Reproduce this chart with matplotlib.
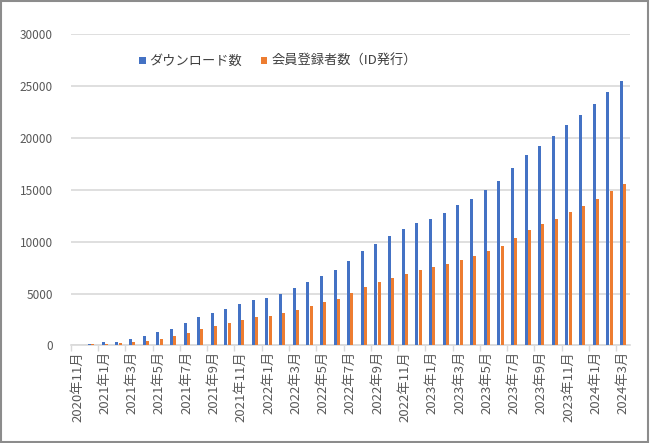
import numpy as np
import matplotlib
matplotlib.use('Agg')
import matplotlib.pyplot as plt
from matplotlib.patches import Rectangle

plt.rcParams['font.family'] = ['Noto Sans CJK JP', 'DejaVu Sans']

# months from 2020年11月 to 2024年3月
months = []
for y in range(2020, 2025):
    for m in range(1, 13):
        if (y == 2020 and m < 11) or (y == 2024 and m > 3):
            continue
        months.append(f'{y}年{m}月')

downloads = [0, 190, 290, 380, 600, 890, 1340, 1620, 2200, 2740,
             3150, 3500, 3950, 4360, 4590, 5000, 5540, 6120, 6720, 7290,
             8100, 9070, 9810, 10510, 11190, 11760, 12210, 12790, 13530, 14140,
             14940, 15800, 17050, 18300, 19170, 20130, 21220, 22180, 23240, 24390,
             25480]
members = [0, 160, 160, 220, 320, 480, 670, 890, 1240, 1560,
           1850, 2130, 2420, 2710, 2870, 3090, 3440, 3820, 4170, 4460,
           5030, 5610, 6090, 6510, 6890, 7240, 7560, 7850, 8270, 8620,
           9070, 9580, 10390, 11120, 11700, 12210, 12890, 13460, 14070, 14840,
           15510]

blue = '#4472C4'
orange = '#ED7D31'
grey_text = '#595959'

fig = plt.figure(figsize=(6.5, 4.43), dpi=100)
ax = fig.add_axes([0.1088, 0.2201, 0.8604, 0.7032])

x = np.arange(len(months))
w = 0.22
ax.bar(x - 0.12, downloads, width=w, color=blue, label='ダウンロード数', zorder=3)
ax.bar(x + 0.12, members, width=w, color=orange, label='会員登録者数（ID発行）', zorder=3)

ax.set_xlim(-0.5, len(months) - 0.5)
ax.set_ylim(0, 30000)
ax.set_yticks(np.arange(0, 30001, 5000))
ax.yaxis.grid(True, color='#D9D9D9', linewidth=1.2, zorder=0)
ax.set_xticks(x[::2])
ax.set_xticklabels(months[::2], rotation=90, fontsize=9.5, color=grey_text)
ax.set_xticks(np.arange(-0.5, len(months), 2), minor=True)
ax.tick_params(axis='x', which='major', length=0, pad=4)
ax.tick_params(axis='x', which='minor', length=4, color='#D9D9D9', width=1)
ax.tick_params(axis='y', length=0, labelsize=8.5, labelcolor=grey_text, pad=13)

for s in ['top', 'right', 'left']:
    ax.spines[s].set_visible(False)
ax.spines['bottom'].set_color('#D9D9D9')
ax.spines['bottom'].set_linewidth(1.2)

# legend sits left of centre, like in the original sheet
fig.legend(loc='center left', bbox_to_anchor=(0.214, 0.861), ncol=2, frameon=False,
           fontsize=9.5, labelcolor='#404040', handlelength=0.5, handleheight=0.5,
           handletextpad=0.3, columnspacing=1.4, borderpad=0, borderaxespad=0)

fig.patches.append(Rectangle((0.002, 0.003), 0.995, 0.994, transform=fig.transFigure,
                             fill=False, edgecolor='#8C8C8C', linewidth=1.5))

fig.savefig('out.png', dpi=100)
